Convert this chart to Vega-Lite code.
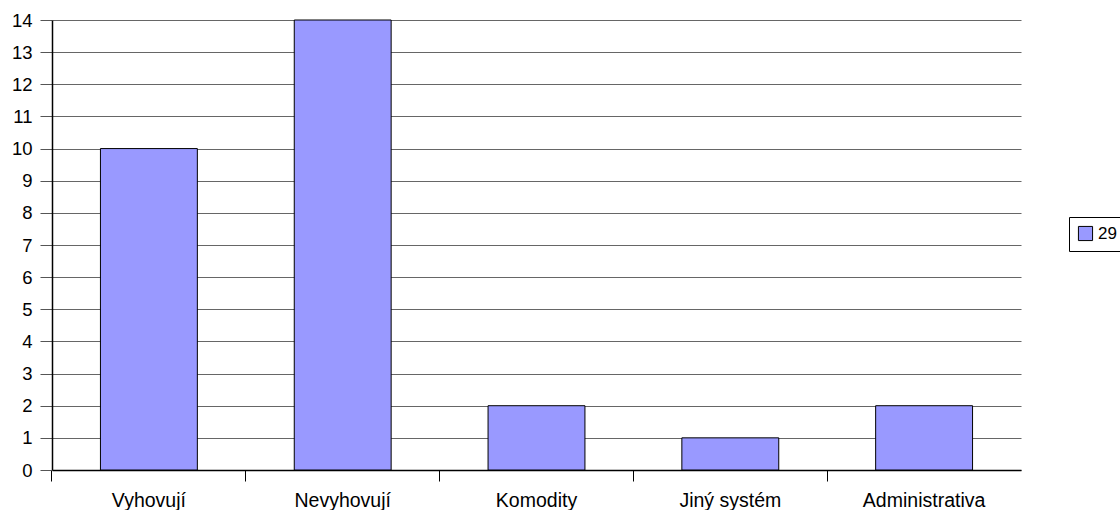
{
  "$schema": "https://vega.github.io/schema/vega-lite/v6.json",
  "autosize": {"type": "none"},
  "width": 969,
  "height": 450,
  "padding": {"left": 52, "top": 20, "right": 99, "bottom": 40},
  "background": "white",
  "config": {
    "font": "Liberation Sans",
    "view": {"stroke": null},
    "axis": {"labelFont": "Liberation Sans", "labelColor": "black"}
  },
  "data": {
    "values": [
      {"kategorie": "Vyhovují", "pocet": 10, "serie": "29"},
      {"kategorie": "Nevyhovují", "pocet": 14, "serie": "29"},
      {"kategorie": "Komodity", "pocet": 2, "serie": "29"},
      {"kategorie": "Jiný systém", "pocet": 1, "serie": "29"},
      {"kategorie": "Administrativa", "pocet": 2, "serie": "29"}
    ]
  },
  "mark": {"type": "bar", "stroke": "black", "strokeWidth": 1},
  "encoding": {
    "x": {
      "field": "kategorie",
      "type": "nominal",
      "sort": null,
      "scale": {"paddingInner": 0.5, "paddingOuter": 0.25},
      "axis": {
        "title": null,
        "labelAngle": 0,
        "bandPosition": -0.5,
        "labelOffset": 0,
        "labelFontSize": 19.5,
        "tickSize": 11,
        "tickColor": "black",
        "domainColor": "black",
        "domainWidth": 1.5,
        "labelPadding": 10,
        "grid": false
      }
    },
    "y": {
      "field": "pocet",
      "type": "quantitative",
      "scale": {"domain": [0, 14], "nice": false},
      "axis": {
        "title": null,
        "values": [0,1,2,3,4,5,6,7,8,9,10,11,12,13,14],
        "labelFontSize": 18.5,
        "tickSize": 12,
        "tickColor": "#555555",
        "domainColor": "black",
        "domainWidth": 1.5,
        "labelPadding": 8,
        "gridColor": "#666666",
        "gridWidth": 1.2,
        "gridOpacity": 1
      }
    },
    "fill": {
      "field": "serie",
      "type": "nominal",
      "scale": {"range": ["#9999ff"]},
      "legend": {
        "title": null,
        "orient": "none",
        "legendX": 1017,
        "legendY": 197,
        "strokeColor": "black",
        "padding": 8,
        "symbolType": "square",
        "symbolSize": 200,
        "symbolStrokeColor": "black",
        "symbolStrokeWidth": 1,
        "labelFontSize": 17,
        "labelFont": "Liberation Sans",
        "labelColor": "black"
      }
    }
  }
}
